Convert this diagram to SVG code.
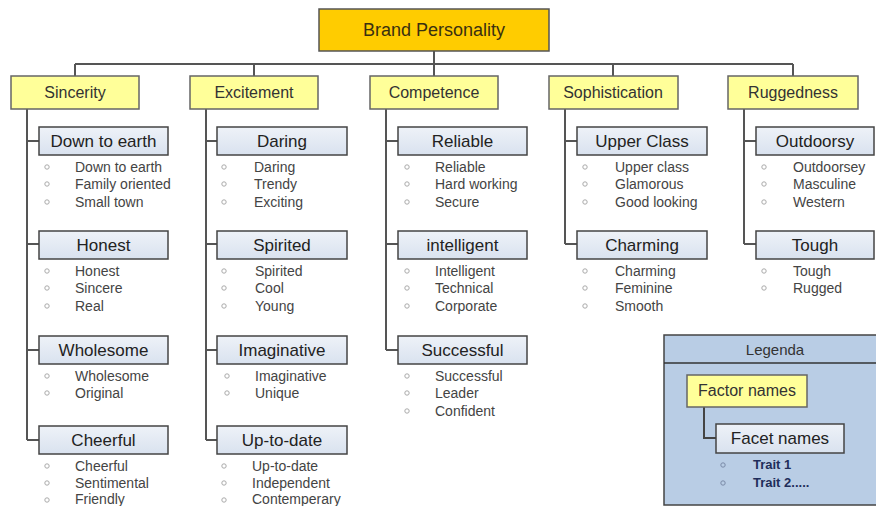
<svg xmlns="http://www.w3.org/2000/svg" width="876" height="506" viewBox="0 0 876 506">
<defs>
<linearGradient id="fg" x1="0" y1="0" x2="0" y2="1"><stop offset="0" stop-color="#EEF2F8"/><stop offset="1" stop-color="#D9E2EF"/></linearGradient>
</defs>
<style>
text{font-family:"Liberation Sans",Arial,sans-serif}
.root rect{fill:#FFCC00;stroke:#555;stroke-width:1.5}
.root text{font-size:18px;fill:#3a3010;text-anchor:middle}
.factor rect{fill:#FFFF99;stroke:#666;stroke-width:1.5}
.factor text{font-size:16px;fill:#333;text-anchor:middle}
.facet rect{fill:url(#fg);stroke:#444;stroke-width:1.5}
.facet text{font-size:17px;fill:#222;text-anchor:middle}
.trait text{font-size:14px;fill:#444}
.trait circle{fill:none;stroke:#aaa;stroke-width:1}
.conn path{fill:none;stroke:#555;stroke-width:2}
.legend .box{fill:#B9CDE5;stroke:#444;stroke-width:1.5}
.ltrait text{font-size:13px;font-weight:bold;fill:#1f2d5a}
.ltrait circle{fill:none;stroke:#7a8aa8;stroke-width:1}
</style>
<rect width="876" height="506" fill="#fff"/>

<g class="conn" id="connectors">
<path d="M434 51V64M75 64H793M75 64V76M254 64V76M434 64V76M613 64V76M793 64V76"/>
<path d="M27 109V440M27 141H39M27 244H39M27 350H39M27 440H39"/>
<path d="M206 109V440M206 141H217M206 244H217M206 350H217M206 440H217"/>
<path d="M386 109V350M386 141H398M386 244H398M386 350H398"/>
<path d="M565 109V244M565 141H577M565 244H577"/>
<path d="M744 109V244M744 141H756M744 244H756"/>
</g>

<g class="root" id="brand-personality"><rect x="319" y="9" width="230" height="42"/><text x="434" y="36">Brand Personality</text></g>

<g class="factor" id="sincerity"><rect x="11" y="76" width="128" height="33"/><text x="75" y="98">Sincerity</text></g>
<g class="factor" id="excitement"><rect x="190" y="76" width="128" height="33"/><text x="254" y="98">Excitement</text></g>
<g class="factor" id="competence"><rect x="370" y="76" width="128" height="33"/><text x="434" y="98">Competence</text></g>
<g class="factor" id="sophistication"><rect x="549" y="76" width="129" height="33"/><text x="613" y="98">Sophistication</text></g>
<g class="factor" id="ruggedness"><rect x="728" y="76" width="130" height="33"/><text x="793" y="98">Ruggedness</text></g>

<!-- Sincerity facets -->
<g class="facet" id="down-to-earth"><rect x="39" y="127" width="129" height="28"/><text x="103.5" y="147">Down to earth</text></g>
<g class="trait" id="down-to-earth-traits">
<circle cx="47" cy="167" r="2.2"/><text x="75" y="172">Down to earth</text>
<circle cx="47" cy="184" r="2.2"/><text x="75" y="189">Family oriented</text>
<circle cx="47" cy="202" r="2.2"/><text x="75" y="207">Small town</text></g>
<g class="facet" id="honest"><rect x="39" y="231" width="129" height="28"/><text x="103.5" y="251">Honest</text></g>
<g class="trait" id="honest-traits">
<circle cx="47" cy="271" r="2.2"/><text x="75" y="276">Honest</text>
<circle cx="47" cy="288" r="2.2"/><text x="75" y="293">Sincere</text>
<circle cx="47" cy="306" r="2.2"/><text x="75" y="311">Real</text></g>
<g class="facet" id="wholesome"><rect x="39" y="336" width="129" height="28"/><text x="103.5" y="356">Wholesome</text></g>
<g class="trait" id="wholesome-traits">
<circle cx="47" cy="376" r="2.2"/><text x="75" y="381">Wholesome</text>
<circle cx="47" cy="393" r="2.2"/><text x="75" y="398">Original</text></g>
<g class="facet" id="cheerful"><rect x="39" y="426" width="129" height="28"/><text x="103.5" y="446">Cheerful</text></g>
<g class="trait" id="cheerful-traits">
<circle cx="47" cy="466" r="2.2"/><text x="75" y="471">Cheerful</text>
<circle cx="47" cy="483" r="2.2"/><text x="75" y="488">Sentimental</text>
<circle cx="47" cy="500" r="2.2"/><text x="75" y="504">Friendly</text></g>

<!-- Excitement facets -->
<g class="facet" id="daring"><rect x="217" y="127" width="130" height="28"/><text x="282" y="147">Daring</text></g>
<g class="trait" id="daring-traits">
<circle cx="224" cy="167" r="2.2"/><text x="254" y="172">Daring</text>
<circle cx="224" cy="184" r="2.2"/><text x="254" y="189">Trendy</text>
<circle cx="224" cy="202" r="2.2"/><text x="254" y="207">Exciting</text></g>
<g class="facet" id="spirited"><rect x="217" y="231" width="130" height="28"/><text x="282" y="251">Spirited</text></g>
<g class="trait" id="spirited-traits">
<circle cx="224" cy="271" r="2.2"/><text x="255" y="276">Spirited</text>
<circle cx="224" cy="288" r="2.2"/><text x="255" y="293">Cool</text>
<circle cx="224" cy="306" r="2.2"/><text x="255" y="311">Young</text></g>
<g class="facet" id="imaginative"><rect x="217" y="336" width="130" height="28"/><text x="282" y="356">Imaginative</text></g>
<g class="trait" id="imaginative-traits">
<circle cx="227" cy="376" r="2.2"/><text x="255" y="381">Imaginative</text>
<circle cx="227" cy="393" r="2.2"/><text x="255" y="398">Unique</text></g>
<g class="facet" id="up-to-date"><rect x="217" y="426" width="130" height="28"/><text x="282" y="446">Up-to-date</text></g>
<g class="trait" id="up-to-date-traits">
<circle cx="224" cy="466" r="2.2"/><text x="252" y="471">Up-to-date</text>
<circle cx="224" cy="483" r="2.2"/><text x="252" y="488">Independent</text>
<circle cx="224" cy="500" r="2.2"/><text x="252" y="504">Contemperary</text></g>

<!-- Competence facets -->
<g class="facet" id="reliable"><rect x="398" y="127" width="129" height="28"/><text x="462.5" y="147">Reliable</text></g>
<g class="trait" id="reliable-traits">
<circle cx="407" cy="167" r="2.2"/><text x="435" y="172">Reliable</text>
<circle cx="407" cy="184" r="2.2"/><text x="435" y="189">Hard working</text>
<circle cx="407" cy="202" r="2.2"/><text x="435" y="207">Secure</text></g>
<g class="facet" id="intelligent"><rect x="398" y="231" width="129" height="28"/><text x="462.5" y="251">intelligent</text></g>
<g class="trait" id="intelligent-traits">
<circle cx="407" cy="271" r="2.2"/><text x="435" y="276">Intelligent</text>
<circle cx="407" cy="288" r="2.2"/><text x="435" y="293">Technical</text>
<circle cx="407" cy="306" r="2.2"/><text x="435" y="311">Corporate</text></g>
<g class="facet" id="successful"><rect x="398" y="336" width="129" height="28"/><text x="462.5" y="356">Successful</text></g>
<g class="trait" id="successful-traits">
<circle cx="407" cy="376" r="2.2"/><text x="435" y="381">Successful</text>
<circle cx="407" cy="393" r="2.2"/><text x="435" y="398">Leader</text>
<circle cx="407" cy="411" r="2.2"/><text x="435" y="416">Confident</text></g>

<!-- Sophistication facets -->
<g class="facet" id="upper-class"><rect x="577" y="127" width="130" height="28"/><text x="642" y="147">Upper Class</text></g>
<g class="trait" id="upper-class-traits">
<circle cx="585" cy="167" r="2.2"/><text x="615" y="172">Upper class</text>
<circle cx="585" cy="184" r="2.2"/><text x="615" y="189">Glamorous</text>
<circle cx="585" cy="202" r="2.2"/><text x="615" y="207">Good looking</text></g>
<g class="facet" id="charming"><rect x="577" y="231" width="130" height="28"/><text x="642" y="251">Charming</text></g>
<g class="trait" id="charming-traits">
<circle cx="585" cy="271" r="2.2"/><text x="615" y="276">Charming</text>
<circle cx="585" cy="288" r="2.2"/><text x="615" y="293">Feminine</text>
<circle cx="585" cy="306" r="2.2"/><text x="615" y="311">Smooth</text></g>

<!-- Ruggedness facets -->
<g class="facet" id="outdoorsy"><rect x="756" y="127" width="118" height="28"/><text x="815" y="147">Outdoorsy</text></g>
<g class="trait" id="outdoorsy-traits">
<circle cx="764" cy="167" r="2.2"/><text x="793" y="172">Outdoorsey</text>
<circle cx="764" cy="184" r="2.2"/><text x="793" y="189">Masculine</text>
<circle cx="764" cy="202" r="2.2"/><text x="793" y="207">Western</text></g>
<g class="facet" id="tough"><rect x="756" y="231" width="118" height="28"/><text x="815" y="251">Tough</text></g>
<g class="trait" id="tough-traits">
<circle cx="764" cy="271" r="2.2"/><text x="793" y="276">Tough</text>
<circle cx="764" cy="288" r="2.2"/><text x="793" y="293">Rugged</text></g>

<!-- Legend -->
<g class="legend" id="legend">
<rect class="box" x="664" y="335" width="220" height="170"/>
<path d="M664 363H876" stroke="#333" stroke-width="1.5"/>
<text x="775" y="355" font-size="15" fill="#333" text-anchor="middle">Legenda</text>
<path d="M704 407V438H716" fill="none" stroke="#444" stroke-width="2"/>
<g class="factor" id="legend-factor"><rect x="687" y="375" width="120" height="32"/><text x="747" y="396">Factor names</text></g>
<g class="facet" id="legend-facet"><rect x="716" y="424" width="128" height="29"/><text x="780" y="444">Facet names</text></g>
<g class="ltrait" id="legend-traits">
<circle cx="723" cy="465" r="2.2"/><text x="753" y="469">Trait 1</text>
<circle cx="723" cy="483" r="2.2"/><text x="753" y="487">Trait 2.....</text></g>
</g>
</svg>
